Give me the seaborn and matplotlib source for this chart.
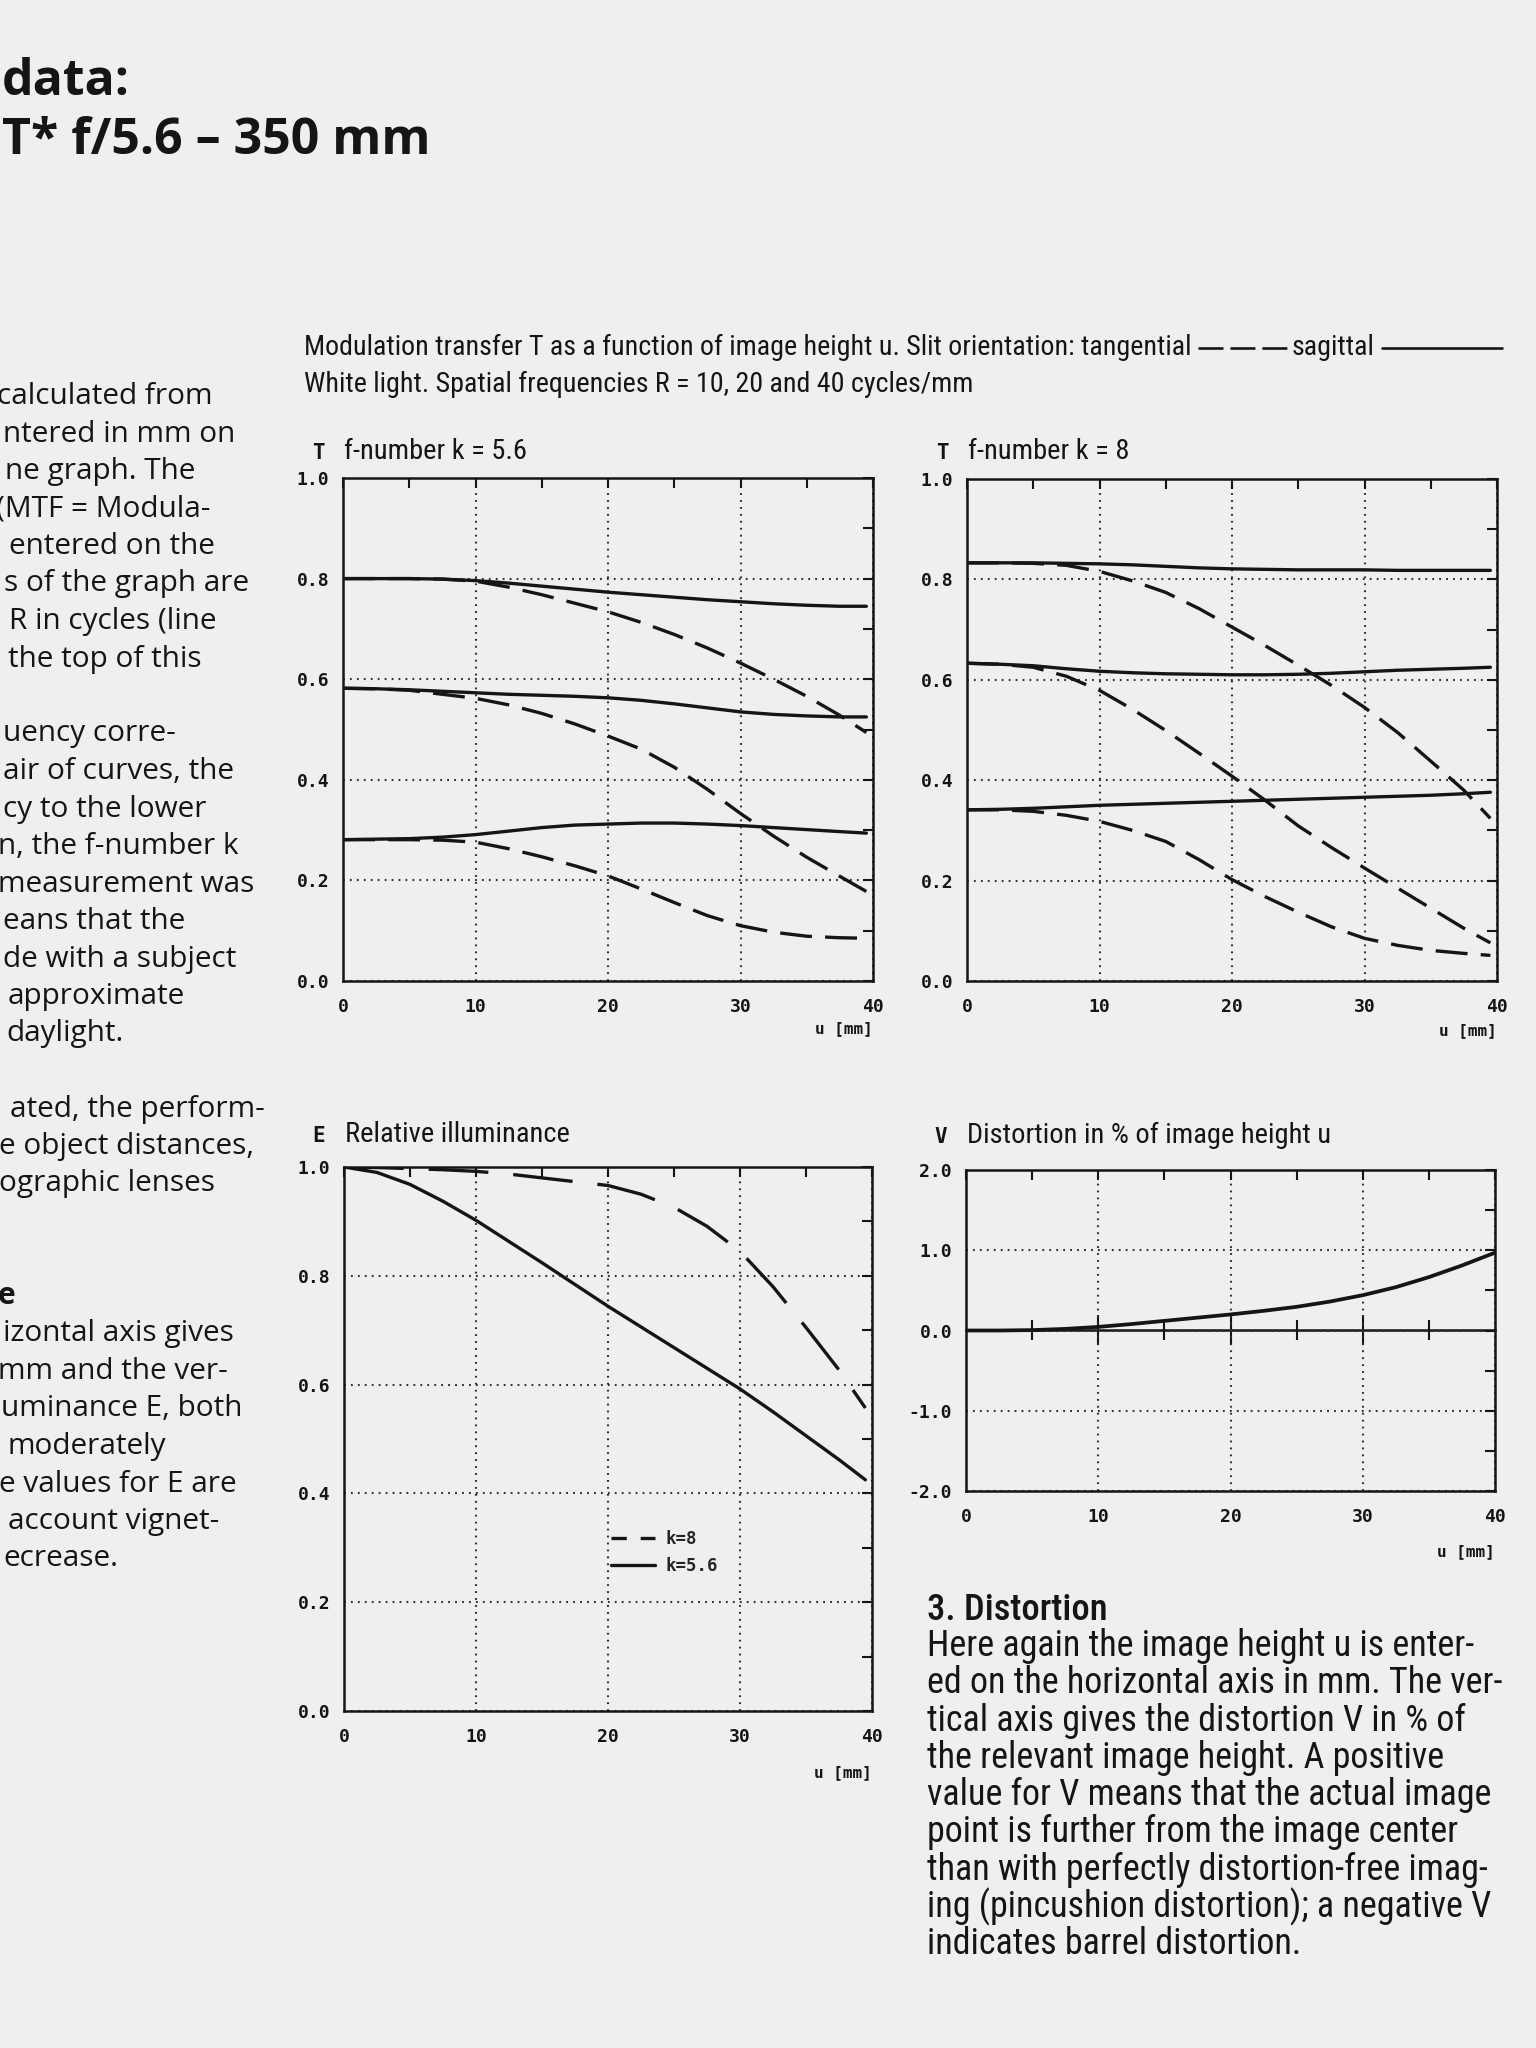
import numpy as np
import pandas as pd
import seaborn as sns
import matplotlib.pyplot as plt
from matplotlib import font_manager
from matplotlib.lines import Line2D
from matplotlib.ticker import MultipleLocator

# ---------------- data ----------------
u = [0, 2.5, 5, 7.5, 10, 12.5, 15, 17.5, 20, 22.5, 25, 27.5, 30, 32.5, 35, 37.5, 39.5]
u_dist = [0, 2.5, 5, 7.5, 10, 12.5, 15, 17.5, 20, 22.5, 25, 27.5, 30, 32.5, 35, 37.5, 40]
freqs = [10, 20, 40]

# MTF, f-number k = 5.6
sag_k56_R10 = [0.800, 0.800, 0.800, 0.799, 0.796, 0.791, 0.785, 0.779, 0.773, 0.768, 0.763, 0.758, 0.754, 0.750, 0.747, 0.745, 0.745]
tan_k56_R10 = [0.800, 0.800, 0.800, 0.799, 0.795, 0.783, 0.768, 0.751, 0.734, 0.713, 0.689, 0.662, 0.632, 0.600, 0.566, 0.528, 0.494]
sag_k56_R20 = [0.582, 0.581, 0.579, 0.576, 0.573, 0.570, 0.568, 0.566, 0.563, 0.558, 0.551, 0.543, 0.535, 0.530, 0.527, 0.525, 0.525]
tan_k56_R20 = [0.582, 0.581, 0.578, 0.570, 0.562, 0.549, 0.532, 0.511, 0.487, 0.461, 0.425, 0.381, 0.333, 0.288, 0.246, 0.208, 0.178]
sag_k56_R40 = [0.281, 0.282, 0.283, 0.286, 0.291, 0.298, 0.305, 0.310, 0.312, 0.314, 0.314, 0.312, 0.309, 0.305, 0.301, 0.297, 0.294]
tan_k56_R40 = [0.281, 0.281, 0.281, 0.280, 0.276, 0.263, 0.247, 0.229, 0.209, 0.183, 0.156, 0.130, 0.110, 0.097, 0.089, 0.086, 0.085]

# MTF, f-number k = 8
sag_k8_R10 = [0.833, 0.833, 0.833, 0.832, 0.831, 0.829, 0.826, 0.823, 0.821, 0.820, 0.819, 0.819, 0.819, 0.818, 0.818, 0.818, 0.818]
tan_k8_R10 = [0.833, 0.833, 0.832, 0.828, 0.816, 0.797, 0.774, 0.742, 0.705, 0.668, 0.629, 0.589, 0.545, 0.495, 0.438, 0.380, 0.324]
sag_k8_R20 = [0.633, 0.631, 0.628, 0.622, 0.617, 0.614, 0.612, 0.611, 0.610, 0.610, 0.611, 0.613, 0.616, 0.619, 0.621, 0.623, 0.625]
tan_k8_R20 = [0.633, 0.631, 0.625, 0.607, 0.579, 0.541, 0.499, 0.454, 0.408, 0.360, 0.309, 0.266, 0.225, 0.185, 0.145, 0.105, 0.076]
sag_k8_R40 = [0.341, 0.342, 0.344, 0.347, 0.350, 0.352, 0.354, 0.356, 0.358, 0.360, 0.362, 0.364, 0.366, 0.368, 0.370, 0.373, 0.376]
tan_k8_R40 = [0.341, 0.341, 0.338, 0.330, 0.318, 0.300, 0.278, 0.242, 0.202, 0.168, 0.137, 0.108, 0.085, 0.071, 0.061, 0.055, 0.051]

# relative illuminance E
E_k8 = [1.000, 0.999, 0.997, 0.995, 0.992, 0.987, 0.980, 0.973, 0.966, 0.950, 0.926, 0.891, 0.845, 0.780, 0.705, 0.627, 0.557]
E_k56 = [1.000, 0.990, 0.968, 0.937, 0.902, 0.863, 0.824, 0.784, 0.744, 0.706, 0.668, 0.630, 0.592, 0.550, 0.506, 0.462, 0.425]

# distortion V in %
V_dist = [0.000, 0.000, 0.005, 0.020, 0.045, 0.080, 0.120, 0.160, 0.200, 0.245, 0.295, 0.360, 0.440, 0.540, 0.665, 0.810, 0.970]

x_ticks = [0, 10, 20, 30, 40]
x_ticklabels = ["0", "10", "20", "30", "40"]
unit_ticks = [0.0, 0.2, 0.4, 0.6, 0.8, 1.0]
unit_ticklabels = ["0.0", "0.2", "0.4", "0.6", "0.8", "1.0"]
dist_ticks = [-2, -1, 0, 1, 2]
dist_ticklabels = ["-2.0", "-1.0", "0.0", "1.0", "2.0"]


# ---------------- fonts ----------------
def pick(*names):
    for n in names:
        try:
            font_manager.findfont(font_manager.FontProperties(family=n), fallback_to_default=False)
            return n
        except Exception:
            pass
    return "DejaVu Sans"


ink = "#151515"
bg = "#efefef"

sns.set_theme(style="white", rc={"axes.facecolor": bg, "figure.facecolor": bg,
                                 "lines.scale_dashes": False})
narrow = pick("Liberation Sans Narrow", "Roboto Condensed", "Open Sans Condensed", "Roboto")
body = pick("Open Sans", "Noto Sans", "Lato")
mono = pick("DejaVu Sans Mono", "Liberation Mono")
plt.rcParams["font.family"] = [body, "DejaVu Sans"]

W, H = 1536, 2048
fig = plt.figure(figsize=(W / 100, H / 100), dpi=100, facecolor=bg)


def px_axes(x0, y0, x1, y1):
    return fig.add_axes([x0 / W, 1 - y1 / H, (x1 - x0) / W, (y1 - y0) / H])


def ftext(x, y, s, **kw):
    kw.setdefault("color", ink)
    return fig.text(x / W, 1 - y / H, s, va="baseline", **kw)


def frame(ax, yticks, ylabels, yminor):
    ax.set_xlim(0, 40)
    ax.set_ylim(yticks[0], yticks[-1])
    tick_font = dict(fontfamily=mono, fontweight="bold", fontsize=13, color=ink)
    ax.set_xticks(x_ticks, x_ticklabels, **tick_font)
    ax.set_xticks([5, 15, 25, 35], minor=True)
    ax.set_yticks(yticks, ylabels, **tick_font)
    ax.yaxis.set_minor_locator(MultipleLocator(yminor))
    ax.tick_params(which="both", direction="in", top=True, right=True,
                   length=7, width=1.5, color=ink)
    ax.tick_params(axis="x", pad=12.5)
    ax.tick_params(axis="y", pad=10)
    for s in ax.spines.values():
        s.set_linewidth(1.8)
        s.set_color(ink)
    ax.grid(True, which="major", color="#303030", linestyle=(0, (1.3, 3.7)), linewidth=1.5)
    ax.set_xlabel("")
    ax.set_ylabel("")


def unit_label(ax, below_px):
    h = ax.get_position().height * H
    ax.text(1.0, -below_px / h, "u [mm]", transform=ax.transAxes, ha="right", va="center",
            fontfamily=mono, fontweight="bold", fontsize=11.5, color=ink)


def mtf_frame(sag, tang):
    parts = []
    for R, s, t in zip(freqs, sag, tang):
        parts.append(pd.DataFrame({"u": u, "T": s, "R": R, "slit": "sagittal"}))
        parts.append(pd.DataFrame({"u": u, "T": t, "R": R, "slit": "tangential"}))
    return pd.concat(parts, ignore_index=True)


mtf_dashes = {"sagittal": "", "tangential": (23, 9.5)}

# ---------------- MTF panels ----------------
ax1 = px_axes(343, 478, 873, 981)
df1 = mtf_frame([sag_k56_R10, sag_k56_R20, sag_k56_R40], [tan_k56_R10, tan_k56_R20, tan_k56_R40])
sns.lineplot(data=df1, x="u", y="T", units="R", style="slit", dashes=mtf_dashes,
             estimator=None, color=ink, lw=2.4, legend=False, ax=ax1)
frame(ax1, unit_ticks, unit_ticklabels, 0.1)
unit_label(ax1, 48)

ax2 = px_axes(967, 479, 1497, 981)
df2 = mtf_frame([sag_k8_R10, sag_k8_R20, sag_k8_R40], [tan_k8_R10, tan_k8_R20, tan_k8_R40])
sns.lineplot(data=df2, x="u", y="T", units="R", style="slit", dashes=mtf_dashes,
             estimator=None, color=ink, lw=2.4, legend=False, ax=ax2)
frame(ax2, unit_ticks, unit_ticklabels, 0.1)
unit_label(ax2, 50)

# ---------------- relative illuminance ----------------
ax3 = px_axes(344, 1167, 872, 1711)
df3 = pd.concat([pd.DataFrame({"u": u, "E": E_k8, "k": "k=8"}),
                 pd.DataFrame({"u": u, "E": E_k56, "k": "k=5.6"})], ignore_index=True)
sns.lineplot(data=df3, x="u", y="E", style="k", dashes={"k=8": (43, 18), "k=5.6": ""},
             estimator=None, color=ink, lw=2.4, legend=False, ax=ax3)
frame(ax3, unit_ticks, unit_ticklabels, 0.1)
unit_label(ax3, 62)
handles = [Line2D([], [], color=ink, lw=2.4, linestyle=(0, (11, 10))),
           Line2D([], [], color=ink, lw=2.4)]
ax3.legend(handles, ["k=8", "k=5.6"], loc="center left", bbox_to_anchor=(0.506, 0.291),
           frameon=False, borderpad=0, borderaxespad=0, handlelength=2.55,
           handletextpad=0.6, labelspacing=0.5,
           prop=dict(family=mono, weight="bold", size=12.5))

# ---------------- distortion ----------------
ax4 = px_axes(966, 1170, 1495, 1491)
sns.lineplot(x=u_dist, y=V_dist, color=ink, lw=2.7, ax=ax4)
frame(ax4, dist_ticks, dist_ticklabels, 0.5)
unit_label(ax4, 61)
zero = ax4.secondary_xaxis(0.5)
zero.set_xticks([10, 20, 30])
zero.set_xticks([5, 15, 25, 35], minor=True)
zero.tick_params(which="major", direction="inout", length=22, width=1.5, color=ink,
                 labeltop=False, labelbottom=False)
zero.tick_params(which="minor", direction="inout", length=14, width=1.5, color=ink)
for s in zero.spines.values():
    s.set_linewidth(1.8)
    s.set_color(ink)

# ---------------- panel titles ----------------
for ax, letter, title, base in [(ax1, "T", "f-number k = 5.6", 459),
                                (ax2, "T", "f-number k = 8", 459),
                                (ax3, "E", "Relative illuminance", 1142),
                                (ax4, "V", "Distortion in % of image height u", 1143)]:
    x0 = ax.get_position().x0 * W
    ftext(x0 - 25, base, letter, fontfamily=mono, fontweight="bold", fontsize=15, ha="center")
    ftext(x0 + 1, base, title, fontfamily=narrow, fontsize=20.5)

# ---------------- header above the MTF panels ----------------
r = fig.canvas.get_renderer()
h1 = ftext(304, 355, "Modulation transfer T as a function of image height u. Slit orientation: tangential",
           fontfamily=narrow, fontsize=20.2)
ftext(304, 392, "White light. Spatial frequencies R = 10, 20 and 40 cycles/mm",
      fontfamily=narrow, fontsize=20.2)
xe = h1.get_window_extent(renderer=r).x1
yl = 1 - 348 / H
fig.add_artist(Line2D([(xe + 6) / W, (xe + 95) / W], [yl, yl], color=ink, lw=1.9,
                      linestyle=(0, (18, 5)), transform=fig.transFigure))
h2 = ftext(xe + 100, 355, "sagittal", fontfamily=narrow, fontsize=20.2)
xs = h2.get_window_extent(renderer=r).x1
fig.add_artist(Line2D([(xs + 8) / W, (xs + 128) / W], [yl, yl], color=ink, lw=1.9,
                      transform=fig.transFigure))

# ---------------- page title ----------------
ftext(2, 95, "data:", fontfamily=body, fontweight="bold", fontsize=36)
ftext(2, 154, "T* f/5.6 \u2013 350 mm", fontfamily=body, fontweight="bold", fontsize=36)

# ---------------- cropped text column on the left ----------------
left_lines = [
    (0, -3, "calculated from"), (1, 3, "ntered in mm on"), (2, 5, "ne graph. The"),
    (3, -4, "(MTF = Modula-"), (4, 9, "entered on the"), (5, 4, "s of the graph are"),
    (6, 9, "R in cycles (line"), (7, 8, "the top of this"),
    (9, 3, "uency corre-"), (10, 3, "air of curves, the"), (11, 3, "cy to the lower"),
    (12, -2, "n, the f-number k"), (13, -2, "measurement was"), (14, 3, "eans that the"),
    (15, 3, "de with a subject"), (16, 8, "approximate"), (17, 6, "daylight."),
    (19, 10, "ated, the perform-"), (20, -1, "e object distances,"), (21, -1, "ographic lenses"),
    (25, 3, "izontal axis gives"), (26, -2, "mm and the ver-"), (27, 1, "uminance E, both"),
    (28, 8, "moderately"), (29, -1, "e values for E are"), (30, 8, "account vignet-"),
    (31, 3, "ecrease."),
]
for n, x, s in left_lines:
    ftext(x, 404 + 37.5 * n, s, fontfamily=body, fontsize=21.4)
ftext(-2, 404 + 37.5 * 24, "e", fontfamily=body, fontweight="bold", fontsize=21.4)

# ---------------- distortion text ----------------
ftext(927, 1620, "3. Distortion", fontfamily=narrow, fontweight="medium", fontsize=26.3)
right_lines = [
    "Here again the image height u is enter-",
    "ed on the horizontal axis in mm. The ver-",
    "tical axis gives the distortion V in % of",
    "the relevant image height. A positive",
    "value for V means that the actual image",
    "point is further from the image center",
    "than with perfectly distortion-free imag-",
    "ing (pincushion distortion); a negative V",
    "indicates barrel distortion.",
]
for i, s in enumerate(right_lines):
    ftext(927, 1656 + 37.3 * i, s, fontfamily=narrow, fontsize=25.9)

fig.savefig("out.png", dpi=100, facecolor=bg)
